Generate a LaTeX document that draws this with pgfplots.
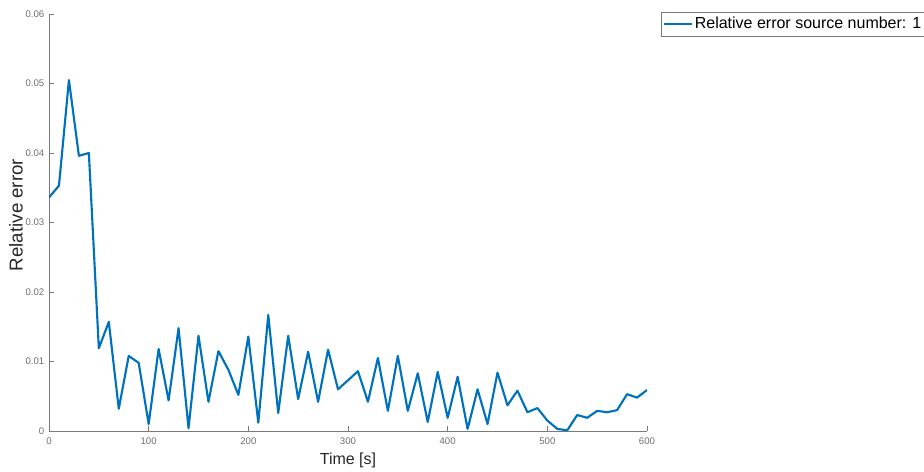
\documentclass[border=0pt]{standalone}
\usepackage{fontspec}
\setmainfont{Liberation Sans}
\usepackage{pgfplots}
\pgfplotsset{compat=1.18}
\definecolor{mblue}{HTML}{0072BD}
\definecolor{axgray}{HTML}{7A7A7A}
\definecolor{labgray}{HTML}{262626}
\begin{document}
\begin{tikzpicture}
\path[use as bounding box] (0,0) rectangle (693pt,353.25pt);
\begin{axis}[
  at={(36.75pt,30pt)}, anchor=south west,
  scale only axis, width=448.5pt, height=312.75pt,
  xmin=0, xmax=600, ymin=0, ymax=0.06,
  axis x line*=bottom, axis y line*=left,
  axis line style={-, axgray, line width=0.6pt},
  tick align=inside,
  major tick length=4pt,
  tick style={axgray, line width=0.6pt},
  xtick={0,100,200,300,400,500,600},
  ytick={0,0.01,0.02,0.03,0.04,0.05,0.06},
  yticklabels={0,0.01,0.02,0.03,0.04,0.05,0.06},
  scaled y ticks=false,
  /pgf/number format/assume math mode=true,
  ticklabel style={font=\fontsize{7.2}{8}\selectfont, text=axgray!90!black},
  xticklabel style={anchor=center, yshift=-7.5pt},
  xlabel={Time [s]},
  ylabel={Relative error},
  xlabel style={font=\fontsize{12}{14}\selectfont, text=labgray, at={(axis description cs:0.5,-0.0695)}, anchor=center},
  ylabel style={font=\fontsize{14}{16}\selectfont, text=labgray, at={(axis description cs:-0.0552,0.518)}, anchor=center, rotate=0},
  legend style={at={(1.0234,1.0048)}, anchor=north west, draw=axgray, line width=0.5pt, fill=white,
    font=\fontsize{12}{14}\selectfont, inner xsep=1.5pt, inner ysep=1.5pt,
    nodes={inner xsep=1pt, inner ysep=2.3pt}},
  legend cell align=left,
  legend image code/.code={\draw[#1] (0pt,0pt) -- (21pt,0pt);},
  clip=true,
]
\addplot[mblue, line width=1.6pt, line join=round] coordinates {
(0,0.0336) (10,0.0353) (20,0.0505) (30,0.0396) (40,0.0400)
(50,0.0119) (60,0.0157) (70,0.0032) (80,0.0108) (90,0.0098)
(100,0.0010) (110,0.0118) (120,0.0044) (130,0.0148) (140,0.0004)
(150,0.0137) (160,0.0042) (170,0.0115) (180,0.0088) (190,0.0052)
(200,0.0136) (210,0.0012) (220,0.0167) (230,0.0026) (240,0.0137)
(250,0.0046) (260,0.0114) (270,0.0042) (280,0.0117) (290,0.0060)
(300,0.0073) (310,0.0086) (320,0.0042) (330,0.0105) (340,0.0029)
(350,0.0108) (360,0.0029) (370,0.0083) (380,0.0013) (390,0.0085)
(400,0.0019) (410,0.0078) (420,0.0003) (430,0.0060) (440,0.0010)
(450,0.0084) (460,0.0037) (470,0.0058) (480,0.0027) (490,0.0033)
(500,0.0015) (510,0.0003) (520,0.0001) (530,0.0023) (540,0.0019)
(550,0.0029) (560,0.0027) (570,0.0030) (580,0.0053) (590,0.0048)
(600,0.0059)
};
\addlegendentry{Relative error source number: 1}
\end{axis}
\end{tikzpicture}
\end{document}
